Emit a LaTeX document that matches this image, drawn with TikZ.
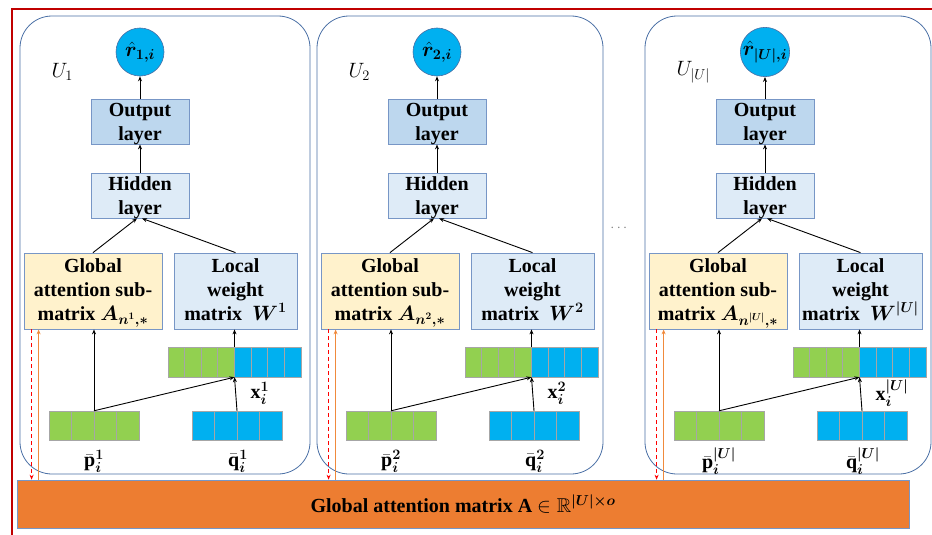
\documentclass[tikz,border=0pt]{standalone}
\usepackage{amsmath,amssymb,bm}
\usepackage{fontspec}
\setmainfont{Liberation Serif}
\usetikzlibrary{arrows.meta,calc}

\definecolor{frameRed}{HTML}{C00000}
\definecolor{panelBlue}{HTML}{4A6FA5}
\definecolor{boxBorder}{HTML}{7796C6}
\definecolor{outFill}{HTML}{BDD7EE}
\definecolor{hidFill}{HTML}{DEEBF7}
\definecolor{gloFill}{HTML}{FFF2CC}
\definecolor{cyanNode}{HTML}{00B0F0}
\definecolor{cellGreen}{HTML}{92D050}
\definecolor{cellBlue}{HTML}{00B0F0}
\definecolor{cellEdge}{HTML}{A6A6A6}
\definecolor{barOrange}{HTML}{ED7D31}
\definecolor{upOrange}{HTML}{F08A3C}
\definecolor{downRed}{HTML}{FF0000}

\tikzset{
  bigfont/.style={font=\fontsize{20}{24}\selectfont\bfseries},
  panel/.style={draw=panelBlue, line width=0.8pt, rounded corners=32pt},
  layerbox/.style={draw=boxBorder, line width=0.8pt, align=center, inner sep=0pt, bigfont},
  twoline/.style={layerbox, minimum width=98pt, minimum height=45pt, text height=37pt, text depth=0pt},
  threeline/.style={layerbox, minimum height=76pt, text height=58pt, text depth=0pt},
  outcirc/.style={circle, draw=panelBlue, fill=cyanNode, line width=0.6pt, minimum size=48pt, inner sep=0pt, bigfont},
  cell/.style={draw=cellEdge, line width=0.8pt},
  vecslot/.style={inner sep=0pt},
  arr/.style={-{Stealth[length=5pt,width=4pt]}, line width=0.9pt, black},
  downarr/.style={-{Stealth[length=5pt,width=4pt]}, line width=0.9pt, downRed, dash pattern=on 4pt off 3pt},
  uparr/.style={-{Stealth[length=5pt,width=4pt]}, line width=0.9pt, upOrange},
  matbar/.style={draw=boxBorder, fill=barOrange, line width=0.6pt, inner sep=0pt, minimum width=892pt, minimum height=48pt, bigfont},
}

\begin{document}
\begin{tikzpicture}[x=1pt,y=-1pt]
\useasboundingbox (0,0) rectangle (932,535);

% outer frame
\draw[frameRed, line width=1.5pt] (12,545) -- (12,9) -- (945,9);

% shared global attention matrix
\node[matbar] (bar) at (463,504) {Global attention matrix A $\in \mathbb{R}^{\bm{|U|\times o}}$};

\node[font=\fontsize{14}{14}\selectfont, gray] (dots) at (620,228) {$\cdots$};

\foreach \k/\dx/\pw/\s in {1/0/310/1, 2/297/306/2, 3/625/306/|U|} {
\begin{scope}[xshift=\dx pt]
  % user block
  \draw[panel] (20,16) rectangle (\pw,474);
  \node[anchor=west, font=\fontsize{20}{24}\selectfont] (u\k) at (48,72) {$U_{\s}$};

  \node[outcirc] (r\k) at (140,52) {$\hat{\bm r}_{\bm{\s,i}}$};
  \node[twoline, fill=outFill] (o\k) at (140,121.5) {Output\\layer};
  \node[twoline, fill=hidFill] (h\k) at (140,195.5) {Hidden\\layer};
  \node[threeline, fill=gloFill, minimum width=138pt] (g\k) at (93,291)
     {Global\\attention sub-\\matrix $\bm{A_{n^{\s},*}}$};
  \node[threeline, fill=hidFill, minimum width=123pt] (l\k) at (235.5,291)
     {Local\\weight\\matrix\ \ $\bm{W^{\s}}$};

  % embedding vectors
  \foreach \j in {0,...,3} {
    \draw[cell, fill=cellGreen] ({168+16.625*\j},347) rectangle ++(16.625,30);
    \draw[cell, fill=cellBlue] ({234.5+16.625*\j},347) rectangle ++(16.625,30);
    \draw[cell, fill=cellGreen] ({49+22.5*\j},411) rectangle ++(22.5,29);
    \draw[cell, fill=cellBlue] ({192+22.5*\j},411) rectangle ++(22.5,29);
  }
  \node[vecslot, minimum width=133pt, minimum height=30pt] (x\k) at (234.5,362) {};
  \node[vecslot, minimum width=90pt, minimum height=29pt] (p\k) at (94,425.5) {};
  \node[vecslot, minimum width=90pt, minimum height=29pt] (q\k) at (237,425.5) {};

  \node[bigfont] (pl\k) at (94,461) {$\bar{\mathbf p}_{\bm i}^{\bm{\s}}$};
  \node[bigfont] (ql\k) at (238,461) {$\bar{\mathbf q}_{\bm i}^{\bm{\s}}$};
  \node[bigfont, anchor=west] (xl\k) at (247,393) {$\mathbf x_{\bm i}^{\bm{\s}}$};

  % connectors
  \draw[arr] (p\k.north) -- (p\k.north |- g\k.south);
  \draw[arr] (p\k.north) -- (x\k.south);
  \draw[arr] (q\k.north) -- (x\k.south);
  \draw[arr] (x\k.north) -- (x\k.north |- l\k.south);
  \draw[arr] (g\k.north) -- ($(h\k.south)+(-3,0)$);
  \draw[arr] (l\k.north) -- ($(h\k.south)+(2,0)$);
  \draw[arr] (h\k.north) -- (o\k.south);
  \draw[arr] (o\k.north) -- (r\k.south);

  \coordinate (rd\k) at ($(g\k.south west)+(8,0)$);
  \coordinate (ou\k) at ($(g\k.south west)+(15,0)$);
  \draw[downarr] (rd\k) -- (rd\k |- bar.north);
  \draw[uparr] (ou\k |- bar.north) -- (ou\k);
\end{scope}
}
\end{tikzpicture}
\end{document}
